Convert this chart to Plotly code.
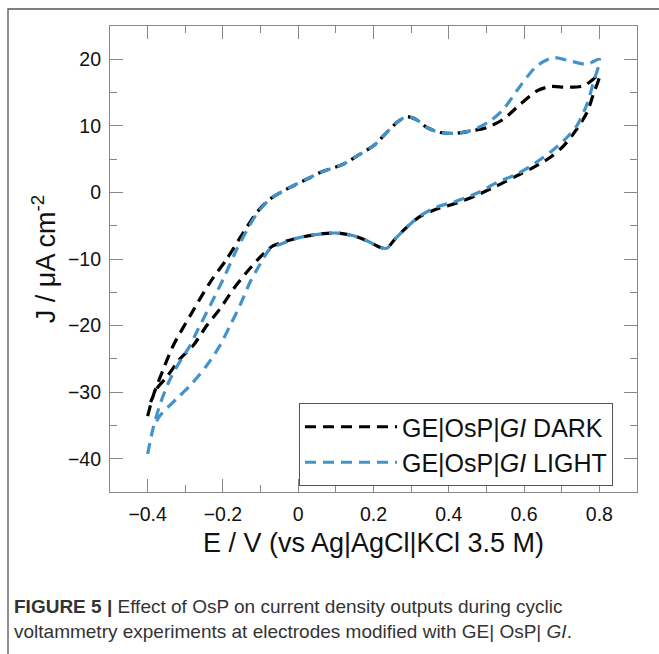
import plotly.graph_objects as go

# ---------------- data ----------------
dark_E = [-0.400, -0.385, -0.358, -0.332, -0.287, -0.234, -0.190, -0.137, -0.110, -0.075,
          -0.022, 0.031, 0.058, 0.120, 0.164, 0.200, 0.235, 0.262, 0.288, 0.315,
          0.342, 0.377, 0.421, 0.465, 0.501, 0.545, 0.590, 0.634, 0.669, 0.713,
          0.758, 0.800,
          0.784, 0.767, 0.740, 0.705, 0.669, 0.625, 0.581, 0.528, 0.475, 0.421,
          0.368, 0.324, 0.288, 0.257, 0.235, 0.218, 0.182, 0.147, 0.102, 0.058,
          0.005, -0.048, -0.066, -0.084, -0.110, -0.137, -0.172, -0.208, -0.243,
          -0.279, -0.314, -0.349, -0.376, -0.392]
dark_J = [-33.6, -30.5, -26.5, -23.0, -18.5, -13.5, -10.0, -5.25, -3.0, -1.0,
          0.75, 2.2, 3.0, 4.25, 5.75, 7.0, 9.0, 10.5, 11.4, 10.9,
          9.75, 9.0, 8.9, 9.3, 9.75, 11.0, 13.25, 15.25, 15.9, 15.8,
          16.0, 17.6,
          14.75, 12.0, 9.5, 7.0, 5.25, 3.75, 2.5, 1.0, -0.4, -1.6,
          -2.5, -3.6, -5.25, -7.0, -8.4, -8.25, -7.25, -6.5, -6.1, -6.25,
          -6.75, -7.6, -8.0, -8.75, -10.25, -12.0, -14.5, -17.5, -20.0,
          -23.0, -25.0, -27.7, -29.5, -31.5]

light_E = [-0.400, -0.385, -0.365, -0.340, -0.310, -0.287, -0.270, -0.234, -0.199, -0.163,
           -0.137, -0.110, -0.075, -0.022, 0.031, 0.058, 0.120, 0.164, 0.200, 0.235,
           0.262, 0.288, 0.315, 0.342, 0.377, 0.421, 0.465, 0.510, 0.545, 0.590,
           0.634, 0.678, 0.722, 0.767, 0.800,
           0.784, 0.767, 0.740, 0.705, 0.669, 0.625, 0.581, 0.528, 0.483, 0.421,
           0.368, 0.324, 0.288, 0.257, 0.235, 0.218, 0.182, 0.147, 0.102, 0.058,
           0.005, -0.039, -0.075, -0.101, -0.128, -0.155, -0.181, -0.208, -0.243,
           -0.287, -0.323, -0.367, -0.385]
light_J = [-39.3, -35.3, -31.5, -28.0, -25.0, -23.0, -21.0, -17.0, -13.0, -8.5,
           -5.75, -3.2, -1.0, 0.75, 2.2, 3.0, 4.25, 5.75, 7.0, 9.0,
           10.5, 11.4, 10.9, 9.75, 9.0, 8.9, 9.4, 10.75, 12.5, 16.0,
           19.0, 20.25, 19.75, 19.25, 20.0,
           16.5, 13.25, 10.0, 7.75, 6.0, 4.25, 2.75, 1.5, 0.1, -1.3,
           -2.2, -3.5, -5.25, -7.0, -8.4, -8.25, -7.25, -6.5, -6.1, -6.25,
           -6.75, -7.6, -8.5, -10.75, -13.5, -17.0, -20.0, -23.0, -26.0,
           -29.0, -31.0, -33.5, -35.3]

series_names = ["GE|OsP|<i>GI</i> DARK", "GE|OsP|<i>GI</i> LIGHT"]
series_colors = ["#000000", "#4393CA"]

x_ticks = [-0.4, -0.2, 0, 0.2, 0.4, 0.6, 0.8]
x_ticktext = ["\u22120.4", "\u22120.2", "0", "0.2", "0.4", "0.6", "0.8"]
y_ticks = [-40, -30, -20, -10, 0, 10, 20]
y_ticktext = ["\u221240", "\u221230", "\u221220", "\u221210", "0", "10", "20"]

FONT = "Arial, 'Liberation Sans', Helvetica, sans-serif"

fig = go.Figure()
for E, J, name, col in [(dark_E, dark_J, series_names[0], series_colors[0]),
                        (light_E, light_J, series_names[1], series_colors[1])]:
    fig.add_trace(go.Scatter(
        x=E, y=J, mode="lines", name=name,
        line=dict(color=col, width=3.2, dash="11px,7px", shape="spline", smoothing=0.8),
    ))

axis_common = dict(
    showline=True, linecolor="#888888", linewidth=1.2, mirror="ticks",
    ticks="inside", ticklen=13, tickwidth=1.2, tickcolor="#888888",
    showgrid=False, zeroline=False, ticklabelstandoff=4,
    tickfont=dict(family=FONT, size=19.5, color="#111111"),
)

fig.update_xaxes(
    range=[-0.5, 0.9], tickvals=x_ticks, ticktext=x_ticktext,
    minor=dict(dtick=0.1, tick0=0, ticks="inside", ticklen=7, tickcolor="#888888", tickwidth=1.2),
    title=dict(text="E / V (vs Ag|AgCl|KCl 3.5 M)", font=dict(family=FONT, size=27, color="#111111"), standoff=9),
    **axis_common,
)
fig.update_yaxes(
    range=[-45, 25], tickvals=y_ticks, ticktext=y_ticktext,
    minor=dict(dtick=5, tick0=0, ticks="inside", ticklen=7, tickcolor="#888888", tickwidth=1.2),
    title=dict(text="J / \u03bcA cm<sup>-2</sup>", font=dict(family=FONT, size=27, color="#111111"), standoff=4),
    **axis_common,
)

L, R, T, B = 110, 22, 26, 162
W, H = 659, 654
pw, ph = W - L - R, H - T - B

def px2x(px):
    return (px - L) / pw

def py2y(py):
    return (H - B - py) / ph

fig.update_layout(
    width=W, height=H,
    margin=dict(l=L, r=R, t=T, b=B),
    paper_bgcolor="white", plot_bgcolor="white",
    showlegend=True,
    legend=dict(
        x=px2x(613), y=py2y(403), xanchor="right", yanchor="top",
        bordercolor="#555555", borderwidth=1, bgcolor="white",
        font=dict(family=FONT, size=25, color="#111111"),
        tracegroupgap=0, itemwidth=92,
    ),
    shapes=[dict(type="rect", xref="paper", yref="paper",
                 x0=px2x(8), y0=py2y(700), x1=px2x(700), y1=py2y(9),
                 line=dict(color="#555555", width=1.3), fillcolor="rgba(0,0,0,0)", layer="below")],
    annotations=[
        dict(xref="paper", yref="paper", x=px2x(12), y=py2y(606), xanchor="left", yanchor="middle",
             showarrow=False, align="left",
             text="<b>FIGURE 5 |</b> Effect of OsP on current density outputs during cyclic",
             font=dict(family=FONT, size=19, color="#333333")),
        dict(xref="paper", yref="paper", x=px2x(12), y=py2y(631), xanchor="left", yanchor="middle",
             showarrow=False, align="left",
             text="voltammetry experiments at electrodes modified with GE| OsP| <i>GI</i>.",
             font=dict(family=FONT, size=19, color="#333333")),
    ],
)

fig.write_html("out.html")
